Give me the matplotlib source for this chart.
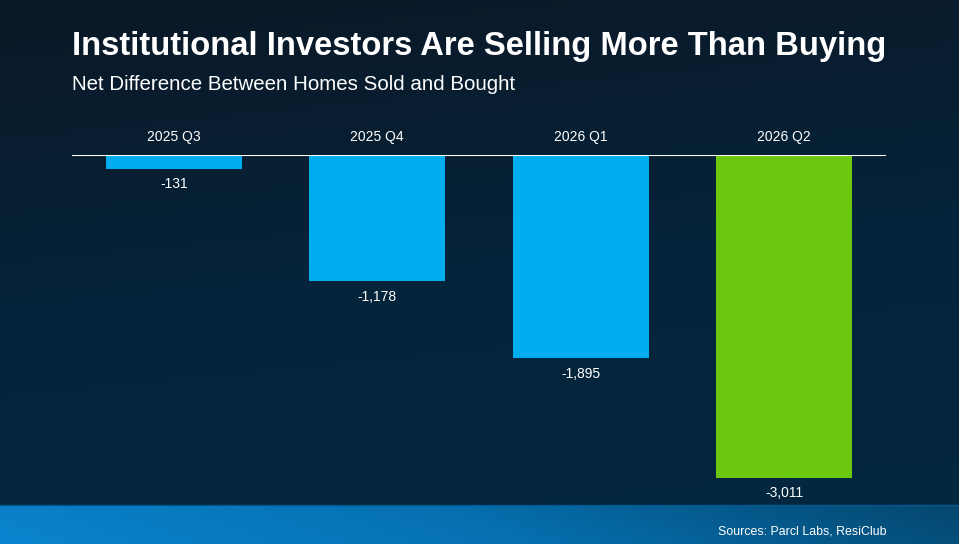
import numpy as np
import matplotlib
matplotlib.use("Agg")
import matplotlib.pyplot as plt
from matplotlib.colors import LinearSegmentedColormap

quarters = ["2025 Q3", "2025 Q4", "2026 Q1", "2026 Q2"]
net_homes = [-131, -1178, -1895, -3011]
value_labels = ["-131", "-1,178", "-1,895", "-3,011"]
bar_colors = ["#00aeef", "#00aeef", "#00aeef", "#6cc70f"]

W, H = 959, 544
plt.rcParams['font.family'] = ['Liberation Sans', 'DejaVu Sans']

fig = plt.figure(figsize=(W / 100, H / 100), dpi=100)

# background gradient (dark navy)
bg = fig.add_axes([0, 0, 1, 1])
bg.set_axis_off()
yy = np.linspace(0, 1, 200)[:, None]
xx = np.linspace(0, 1, 200)[None, :]
bg_cmap = LinearSegmentedColormap.from_list("bg", ["#0b1826", "#05243b", "#03283f"])
bg.imshow(yy * 0.85 + xx * 0.15, cmap=bg_cmap, aspect="auto", extent=[0, 1, 0, 1],
          origin="upper", vmin=0, vmax=1)
# bottom band
band_cmap = LinearSegmentedColormap.from_list("band", ["#0a84cf", "#0670b0", "#04476e"])
band_top = 1 - 505 / H
bg.imshow(xx * 0.9 + (1 - yy) * 0.1, cmap=band_cmap, aspect="auto",
          extent=[0, 1, 0, band_top], origin="upper", vmin=0, vmax=1)
bg.axhline(band_top, color="#05588f", lw=1)
bg.set_xlim(0, 1)
bg.set_ylim(0, 1)

fig.text(72 / W, 1 - 46 / H, "Institutional Investors Are Selling More Than Buying",
         color="white", fontsize=23.6, fontweight="bold", va="center", ha="left")
fig.text(72 / W, 1 - 84 / H, "Net Difference Between Homes Sold and Bought",
         color="white", fontsize=14.8, va="center", ha="left")
fig.text(886 / W, 1 - 531 / H, "Sources: Parcl Labs, ResiClub",
         color="white", fontsize=8.9, va="center", ha="right")

# main chart
px_per_unit = 323 / 3011
ax = fig.add_axes([72 / W, 1 - 505 / H, 814 / W, 350 / H])
ax.set_facecolor("none")
x = np.arange(len(quarters))
ax.bar(x, net_homes, width=0.668, color=bar_colors)
ax.axhline(0, color="white", lw=1.5)
ax.set_xlim(-0.5, len(quarters) - 0.5)
ax.set_ylim(-350 / px_per_unit, 0)
ax.set_axis_off()

for i, (q, v, lab) in enumerate(zip(quarters, net_homes, value_labels)):
    ax.annotate(q, (i, 0), xytext=(0, 13), textcoords="offset points",
                ha="center", va="center", color="white", fontsize=10)
    ax.annotate(lab, (i, v), xytext=(0, -11), textcoords="offset points",
                ha="center", va="center", color="white", fontsize=10)

fig.savefig("out.png", dpi=100)
